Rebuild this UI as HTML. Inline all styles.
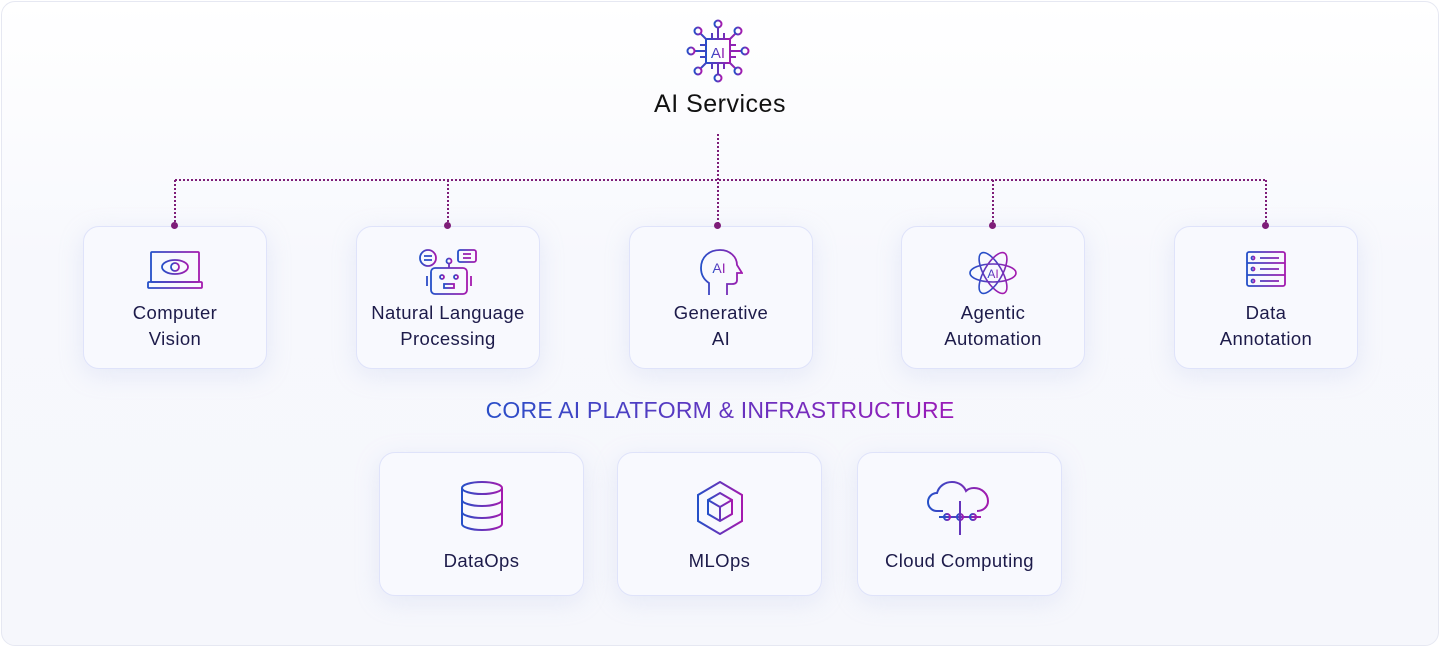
<!DOCTYPE html>
<html><head><meta charset="utf-8"><style>
body{margin:0;width:1440px;height:649px;background:#fff;font-family:"Liberation Sans",sans-serif;overflow:hidden;position:relative}
.outer{position:absolute;left:1px;top:1px;width:1436px;height:643px;border:1px solid #e6e8f2;border-radius:14px;background:linear-gradient(#fff,#f7f8fd 40%,#f6f7fc)}
.card{position:absolute;width:184px;height:143px;border:1px solid #dfe3fa;border-radius:16px;background:#f8f9fe;box-shadow:0 6px 24px rgba(180,190,230,.25);text-align:center;box-sizing:border-box}
.card .t{position:absolute;left:-10px;right:-10px;top:73px;font-size:18.5px;letter-spacing:.4px;line-height:26px;color:#1d1b4a}
.card svg{position:absolute;left:50%;top:22px;transform:translateX(-50%)}
.b{width:205px;height:144px}
.b .t{top:95px}
.b svg{top:28px}
.title{position:absolute;left:0;width:1440px;top:90px;text-align:center;font-size:25px;letter-spacing:.5px;color:#111}
.core{position:absolute;left:0;width:1440px;top:397px;text-align:center;font-size:23px;letter-spacing:.2px}
.core span{background:linear-gradient(90deg,#2a4fc8,#9a1bb8);-webkit-background-clip:text;background-clip:text;color:transparent}
.dot{position:absolute;width:7px;height:7px;border-radius:50%;background:#7e1d78;z-index:5}
</style></head><body>
<div class="outer"></div>
<svg width="1440" height="649" style="position:absolute;left:0;top:0">
<defs><linearGradient id="g" x1="0" x2="1"><stop offset="0" stop-color="#2450c8"/><stop offset="1" stop-color="#a41aae"/></linearGradient></defs>
<g stroke="#7e1d78" stroke-width="2" stroke-dasharray="2 2" fill="none">
<path d="M718 134V226M175 180H1266M175 180V226M448 180V226M993 180V226M1266 180V226"/>
</g>
<g stroke="url(#g)" stroke-width="2" fill="none">
<rect x="706" y="39" width="24" height="24"/>
<path d="M718 27V39M718 63V75M694 51H706M730 51H742M700 33L706 39M736 33L730 39M700 69L706 63M736 69L730 63M712 33v6M724 33v6M712 63v6M724 63v6M700 45h6M700 57h6M730 45h6M730 57h6"/>
<circle cx="718" cy="24" r="3.5"/><circle cx="718" cy="78" r="3.5"/><circle cx="691" cy="51" r="3.5"/><circle cx="745" cy="51" r="3.5"/><circle cx="698" cy="31" r="3.5"/><circle cx="738" cy="31" r="3.5"/><circle cx="698" cy="71" r="3.5"/><circle cx="738" cy="71" r="3.5"/>
</g>
<text x="718" y="58" text-anchor="middle" font-size="15" fill="url(#g)" font-family="Liberation Sans">AI</text>
</svg>
<div class="title">AI Services</div>

<div class="card" style="left:83px;top:226px"><svg width="56" height="40" viewBox="0 0 56 40"><defs><linearGradient id="a1" x1="0" x2="1"><stop offset="0" stop-color="#2450c8"/><stop offset="1" stop-color="#a41aae"/></linearGradient></defs><g stroke="url(#a1)" stroke-width="1.8" fill="none"><rect x="4" y="3" width="48" height="30" rx="1"/><rect x="1" y="33" width="54" height="6" rx="1"/><ellipse cx="28" cy="18" rx="13" ry="7"/><circle cx="28" cy="18" r="4"/></g></svg><div class="t">Computer<br>Vision</div></div>
<div class="card" style="left:356px;top:226px"><svg width="64" height="48" viewBox="0 0 64 48"><defs><linearGradient id="a2" x1="0" x2="1"><stop offset="0" stop-color="#2450c8"/><stop offset="1" stop-color="#a41aae"/></linearGradient></defs><g stroke="url(#a2)" stroke-width="1.8" fill="none"><circle cx="12" cy="9" r="8"/><rect x="42" y="1" width="18" height="12" rx="2"/><rect x="15" y="19" width="36" height="26" rx="4"/><circle cx="33" cy="12" r="2.5"/><path d="M33 15v4M11 27v10M55 27v10M8 7h8M8 11h8M47 5h8M47 9h8"/><circle cx="26" cy="28" r="2"/><circle cx="40" cy="28" r="2"/><rect x="28" y="35" width="10" height="4"/></g></svg><div class="t">Natural Language<br>Processing</div></div>
<div class="card" style="left:629px;top:226px"><svg width="44" height="48" viewBox="0 0 44 48"><defs><linearGradient id="a3" x1="0" x2="1"><stop offset="0" stop-color="#2450c8"/><stop offset="1" stop-color="#a41aae"/></linearGradient></defs><path d="M10 46V34C4 30 2 24 2 19 2 8 10 1 21 1c10 0 17 7 17 15l5 8h-5v7c0 3-2 4-5 4h-5v11" stroke="url(#a3)" stroke-width="1.8" fill="none"/><text x="20" y="24" text-anchor="middle" font-size="14" fill="url(#a3)" font-family="Liberation Sans">AI</text></svg><div class="t">Generative<br>AI</div></div>
<div class="card" style="left:901px;top:226px"><svg width="50" height="48" viewBox="0 0 50 48"><defs><linearGradient id="a4" x1="0" x2="1"><stop offset="0" stop-color="#2450c8"/><stop offset="1" stop-color="#a41aae"/></linearGradient></defs><g stroke="url(#a4)" stroke-width="1.6" fill="none"><ellipse cx="25" cy="24" rx="23" ry="9"/><ellipse cx="25" cy="24" rx="23" ry="9" transform="rotate(60 25 24)"/><ellipse cx="25" cy="24" rx="23" ry="9" transform="rotate(-60 25 24)"/></g><text x="25" y="29" text-anchor="middle" font-size="12" fill="url(#a4)" font-family="Liberation Sans">AI</text></svg><div class="t">Agentic<br>Automation</div></div>
<div class="card" style="left:1174px;top:226px"><svg width="42" height="40" viewBox="0 0 42 40"><defs><linearGradient id="a5" x1="0" x2="1"><stop offset="0" stop-color="#2450c8"/><stop offset="1" stop-color="#a41aae"/></linearGradient></defs><g stroke="url(#a5)" stroke-width="1.8" fill="none"><rect x="2" y="3" width="38" height="34" rx="2"/><path d="M2 14H40M2 26H40M15 9H34M15 20H34M15 32H34"/><circle cx="8" cy="9" r="1.5"/><circle cx="8" cy="20" r="1.5"/><circle cx="8" cy="32" r="1.5"/></g></svg><div class="t">Data<br>Annotation</div></div>

<div class="dot" style="left:171px;top:222px"></div><div class="dot" style="left:444px;top:222px"></div><div class="dot" style="left:714px;top:222px"></div><div class="dot" style="left:989px;top:222px"></div><div class="dot" style="left:1262px;top:222px"></div>

<div class="core"><span>CORE AI PLATFORM &amp; INFRASTRUCTURE</span></div>

<div class="card b" style="left:379px;top:452px"><svg width="44" height="50" viewBox="0 0 44 50"><defs><linearGradient id="b1" x1="0" x2="1"><stop offset="0" stop-color="#2450c8"/><stop offset="1" stop-color="#a41aae"/></linearGradient></defs><g stroke="url(#b1)" stroke-width="2" fill="none"><ellipse cx="22" cy="7" rx="20" ry="6"/><path d="M2 7v36c0 3 9 6 20 6s20-3 20-6V7M2 19c0 3 9 6 20 6s20-3 20-6M2 31c0 3 9 6 20 6s20-3 20-6"/></g></svg><div class="t">DataOps</div></div>
<div class="card b" style="left:617px;top:452px"><svg width="48" height="54" viewBox="0 0 48 54"><defs><linearGradient id="b2" x1="0" x2="1"><stop offset="0" stop-color="#2450c8"/><stop offset="1" stop-color="#a41aae"/></linearGradient></defs><g stroke="url(#b2)" stroke-width="2" fill="none"><path d="M24 1L46 14V40L24 53L2 40V14Z"/><path d="M24 12L36 19V33L24 40L12 33V19ZM12 19L24 26L36 19M24 26V40"/></g></svg><div class="t">MLOps</div></div>
<div class="card b" style="left:857px;top:452px"><svg width="66" height="56" viewBox="0 0 66 56"><defs><linearGradient id="b3" x1="0" x2="1"><stop offset="0" stop-color="#2450c8"/><stop offset="1" stop-color="#a41aae"/></linearGradient></defs><g stroke="url(#b3)" stroke-width="2" fill="none"><path d="M16 30H10C5 30 1 26 1 21s4-9 9-9c2-7 8-11 15-11 7 0 12 4 14 9 2-2 5-3 8-3 8 0 14 6 14 13 0 6-5 10-11 10H50"/><path d="M33 20V54M12 36H54"/><circle cx="20" cy="36" r="3"/><circle cx="33" cy="36" r="3"/><circle cx="46" cy="36" r="3"/></g></svg><div class="t">Cloud Computing</div></div>
</body></html>
